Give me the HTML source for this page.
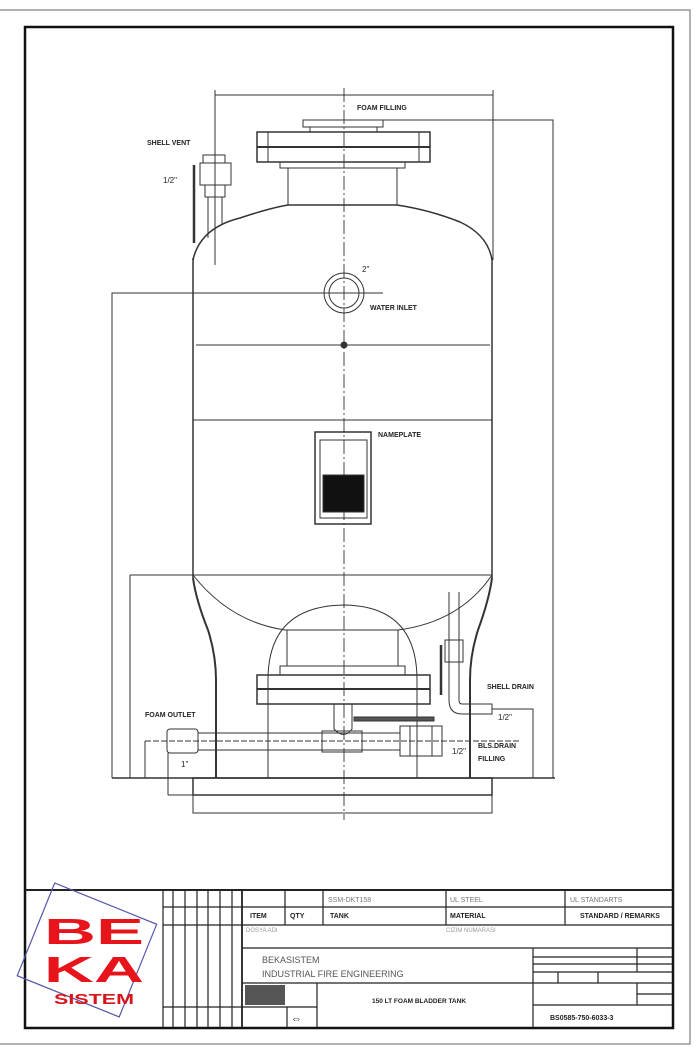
<!DOCTYPE html>
<html><head><meta charset="utf-8"><style>
html,body{margin:0;padding:0;background:#fff;}
svg{display:block;}
text{font-family:"Liberation Sans",sans-serif;}
</style></head><body>
<svg width="700" height="1054" viewBox="0 0 700 1054" xmlns="http://www.w3.org/2000/svg">
<g fill="none" stroke="#333" stroke-width="1">
<polyline points="0,10 690,10 690,1044 0,1044" stroke="#666"/>
<rect x="25" y="27" width="648" height="1001" stroke="#111" stroke-width="2.5"/>
<line x1="344" y1="88" x2="344" y2="820" stroke-dasharray="14,3,2,3" stroke="#444"/>
<line x1="215" y1="95" x2="493" y2="95"/>
<line x1="215" y1="90" x2="215" y2="265"/>
<line x1="493" y1="90" x2="493" y2="260"/>
<rect x="303" y="120" width="80" height="7"/>
<rect x="310" y="127" width="67" height="5"/>
<polyline points="383,120 553,120 553,778"/>
<rect x="257" y="132" width="173" height="30" stroke-width="1.5"/>
<line x1="257" y1="147" x2="430" y2="147" stroke-width="2"/>
<line x1="268" y1="132" x2="268" y2="162"/><line x1="419" y1="132" x2="419" y2="162"/>
<rect x="280" y="162" width="125" height="6"/>
<line x1="288" y1="168" x2="288" y2="205"/><line x1="397" y1="168" x2="397" y2="205"/>
<path d="M193,260 Q200,228 240,218 Q270,208 288,205 L397,205 Q430,210 460,222 Q488,235 492,260" stroke-width="1.5"/>
<line x1="193" y1="258" x2="193" y2="578" stroke-width="1.5"/>
<line x1="492" y1="258" x2="492" y2="578" stroke-width="1.5"/>
<line x1="196" y1="345" x2="490" y2="345"/>
<line x1="193" y1="420" x2="492" y2="420"/>
<rect x="203" y="155" width="22" height="8"/>
<rect x="200" y="163" width="31" height="22"/>
<rect x="205" y="185" width="20" height="12"/>
<line x1="208" y1="197" x2="208" y2="238"/><line x1="222" y1="197" x2="222" y2="225"/>
<line x1="215" y1="150" x2="215" y2="200" stroke-dasharray="6,2"/>
<line x1="194" y1="165" x2="194" y2="243" stroke-width="2.5"/>
<circle cx="344" cy="293" r="20"/><circle cx="344" cy="293" r="15"/>
<polyline points="383,293 112,293 112,778"/>
<circle cx="344" cy="345" r="3" fill="#333"/>
<rect x="315" y="432" width="56" height="92" stroke-width="1.5"/>
<rect x="320" y="440" width="47" height="78"/>
<rect x="323" y="475" width="41" height="37" fill="#111"/>
<line x1="130" y1="575" x2="492" y2="575"/>
<line x1="130" y1="575" x2="130" y2="778"/>
<path d="M193,575 Q230,622 285,630 L398,630 Q460,622 492,575"/>
<path d="M193,578 Q196,600 208,630 Q216,655 216,680 L216,778" stroke-width="2"/>
<path d="M492,578 Q489,600 478,630 Q470,655 470,680 L470,778" stroke-width="2"/>
<path d="M268,778 L268,680 Q268,606 344,605 Q417,606 417,680 L417,778"/>
<rect x="287" y="630" width="111" height="36"/>
<rect x="280" y="666" width="125" height="9"/>
<rect x="257" y="675" width="173" height="29" stroke-width="1.5"/>
<line x1="257" y1="689" x2="430" y2="689" stroke-width="2"/>
<path d="M334,704 L334,729 Q344,740 352,729 L352,704"/>
<rect x="354" y="717" width="80" height="4" fill="#555"/>
<rect x="167" y="729" width="31" height="24" rx="3"/>
<line x1="198" y1="733" x2="400" y2="733"/><line x1="198" y1="750" x2="400" y2="750"/>
<line x1="145" y1="741" x2="520" y2="741" stroke-dasharray="6,2"/>
<rect x="322" y="731" width="40" height="21"/>
<rect x="400" y="726" width="42" height="30"/>
<line x1="410" y1="726" x2="410" y2="756"/><line x1="432" y1="726" x2="432" y2="756"/>
<polyline points="145,741 145,778"/>
<line x1="449" y1="592" x2="449" y2="700"/><line x1="459" y1="592" x2="459" y2="700"/>
<rect x="445" y="640" width="18" height="22"/>
<line x1="441" y1="645" x2="441" y2="695" stroke-width="2.5"/>
<path d="M449,700 Q449,714 462,714 L492,714 L492,704 L462,704 Q459,704 459,700"/>
<polyline points="492,709 533,709 533,778"/>
<line x1="112" y1="778" x2="555" y2="778" stroke-width="1.5"/>
<rect x="193" y="778" width="299" height="17" stroke-width="1.5"/>
<line x1="168" y1="753" x2="168" y2="795"/>
<line x1="168" y1="795" x2="490" y2="795"/>
<polyline points="193,795 193,813 492,813 492,795"/>
</g>
<g font-size="7" font-weight="bold" style="fill:#222">
<text x="147" y="145">SHELL VENT</text>
<text x="163" y="183" font-size="8" font-weight="normal">1/2"</text>
<text x="357" y="110">FOAM FILLING</text>
<text x="362" y="272" font-size="8" font-weight="normal">2"</text>
<text x="370" y="310">WATER INLET</text>
<text x="378" y="437">NAMEPLATE</text>
<text x="145" y="717">FOAM OUTLET</text>
<text x="181" y="767" font-size="8" font-weight="normal">1"</text>
<text x="487" y="689">SHELL DRAIN</text>
<text x="498" y="720" font-size="8" font-weight="normal">1/2"</text>
<text x="452" y="754" font-size="8" font-weight="normal">1/2"</text>
<text x="478" y="748">BLS.DRAIN</text>
<text x="478" y="761">FILLING</text>
</g>
<g fill="none" stroke="#222" stroke-width="1.2">
<line x1="25" y1="890" x2="673" y2="890" stroke-width="2"/>
<line x1="163" y1="890" x2="163" y2="1028"/><line x1="173" y1="890" x2="173" y2="1028"/>
<line x1="185" y1="890" x2="185" y2="1028"/><line x1="197" y1="890" x2="197" y2="1028"/>
<line x1="208" y1="890" x2="208" y2="1028"/><line x1="220" y1="890" x2="220" y2="1028"/>
<line x1="232" y1="890" x2="232" y2="1028"/><line x1="242" y1="890" x2="242" y2="1028" stroke-width="1.8"/>
<line x1="163" y1="907" x2="242" y2="907"/><line x1="163" y1="925" x2="242" y2="925"/>
<line x1="163" y1="1007" x2="242" y2="1007"/>
<line x1="242" y1="907" x2="673" y2="907"/><line x1="242" y1="925" x2="673" y2="925"/>
<line x1="285" y1="890" x2="285" y2="925"/><line x1="323" y1="890" x2="323" y2="925"/>
<line x1="446" y1="890" x2="446" y2="925"/><line x1="565" y1="890" x2="565" y2="925"/>
<line x1="242" y1="948" x2="673" y2="948"/>
<line x1="242" y1="983" x2="533" y2="983"/>
<line x1="533" y1="948" x2="533" y2="1028"/>
<line x1="317" y1="983" x2="317" y2="1028"/>
<line x1="242" y1="1007" x2="317" y2="1007"/>
<line x1="287" y1="1007" x2="287" y2="1028"/>
<line x1="533" y1="957" x2="673" y2="957"/><line x1="533" y1="964" x2="673" y2="964"/>
<line x1="533" y1="972" x2="673" y2="972"/><line x1="533" y1="983" x2="673" y2="983"/>
<line x1="533" y1="1005" x2="673" y2="1005"/>
<line x1="637" y1="948" x2="637" y2="972"/><line x1="637" y1="983" x2="637" y2="1005"/>
<line x1="637" y1="994" x2="673" y2="994"/>
<line x1="558" y1="972" x2="558" y2="983"/><line x1="598" y1="972" x2="598" y2="983"/>
<rect x="245" y="985" width="40" height="20" fill="#555" stroke="none"/>
<rect x="30" y="900" width="110" height="100" stroke="#55a" transform="rotate(22 86 955)"/>
</g>
<g font-size="7" style="fill:#222">
<text x="328" y="902" style="fill:#777">SSM-DKT158</text>
<text x="450" y="902" style="fill:#777">UL STEEL</text>
<text x="570" y="902" style="fill:#777">UL STANDARTS</text>
<text x="250" y="918" font-weight="bold">ITEM</text><text x="290" y="918" font-weight="bold">QTY</text>
<text x="330" y="918" font-weight="bold">TANK</text><text x="450" y="918" font-weight="bold">MATERIAL</text>
<text x="580" y="918" font-weight="bold">STANDARD / REMARKS</text>
<text x="246" y="932" style="fill:#999" font-size="6">DOSYA ADI</text>
<text x="446" y="932" style="fill:#999" font-size="6">CIZIM NUMARASI</text>
<text x="262" y="963" font-size="9" style="fill:#555">BEKASISTEM</text>
<text x="262" y="977" font-size="9" style="fill:#555">INDUSTRIAL FIRE ENGINEERING</text>
<text x="372" y="1003" font-weight="bold" font-size="6.5">150 LT FOAM BLADDER TANK</text>
<text x="550" y="1020" font-weight="bold" font-size="7">BS0585-750-6033-3</text>
<text x="291" y="1022" font-size="11">⇔</text>
</g>
<g font-weight="bold" text-anchor="middle" style="fill:#e8141c">
<text x="94" y="944" font-size="36" style="fill:#e8141c" textLength="100" lengthAdjust="spacingAndGlyphs">BE</text>
<text x="94" y="982" font-size="36" style="fill:#e8141c" textLength="100" lengthAdjust="spacingAndGlyphs">KA</text>
<text x="94" y="1004" font-size="15" style="fill:#d8141c" textLength="80" lengthAdjust="spacingAndGlyphs">SISTEM</text>
</g>
</svg>
</body></html>
